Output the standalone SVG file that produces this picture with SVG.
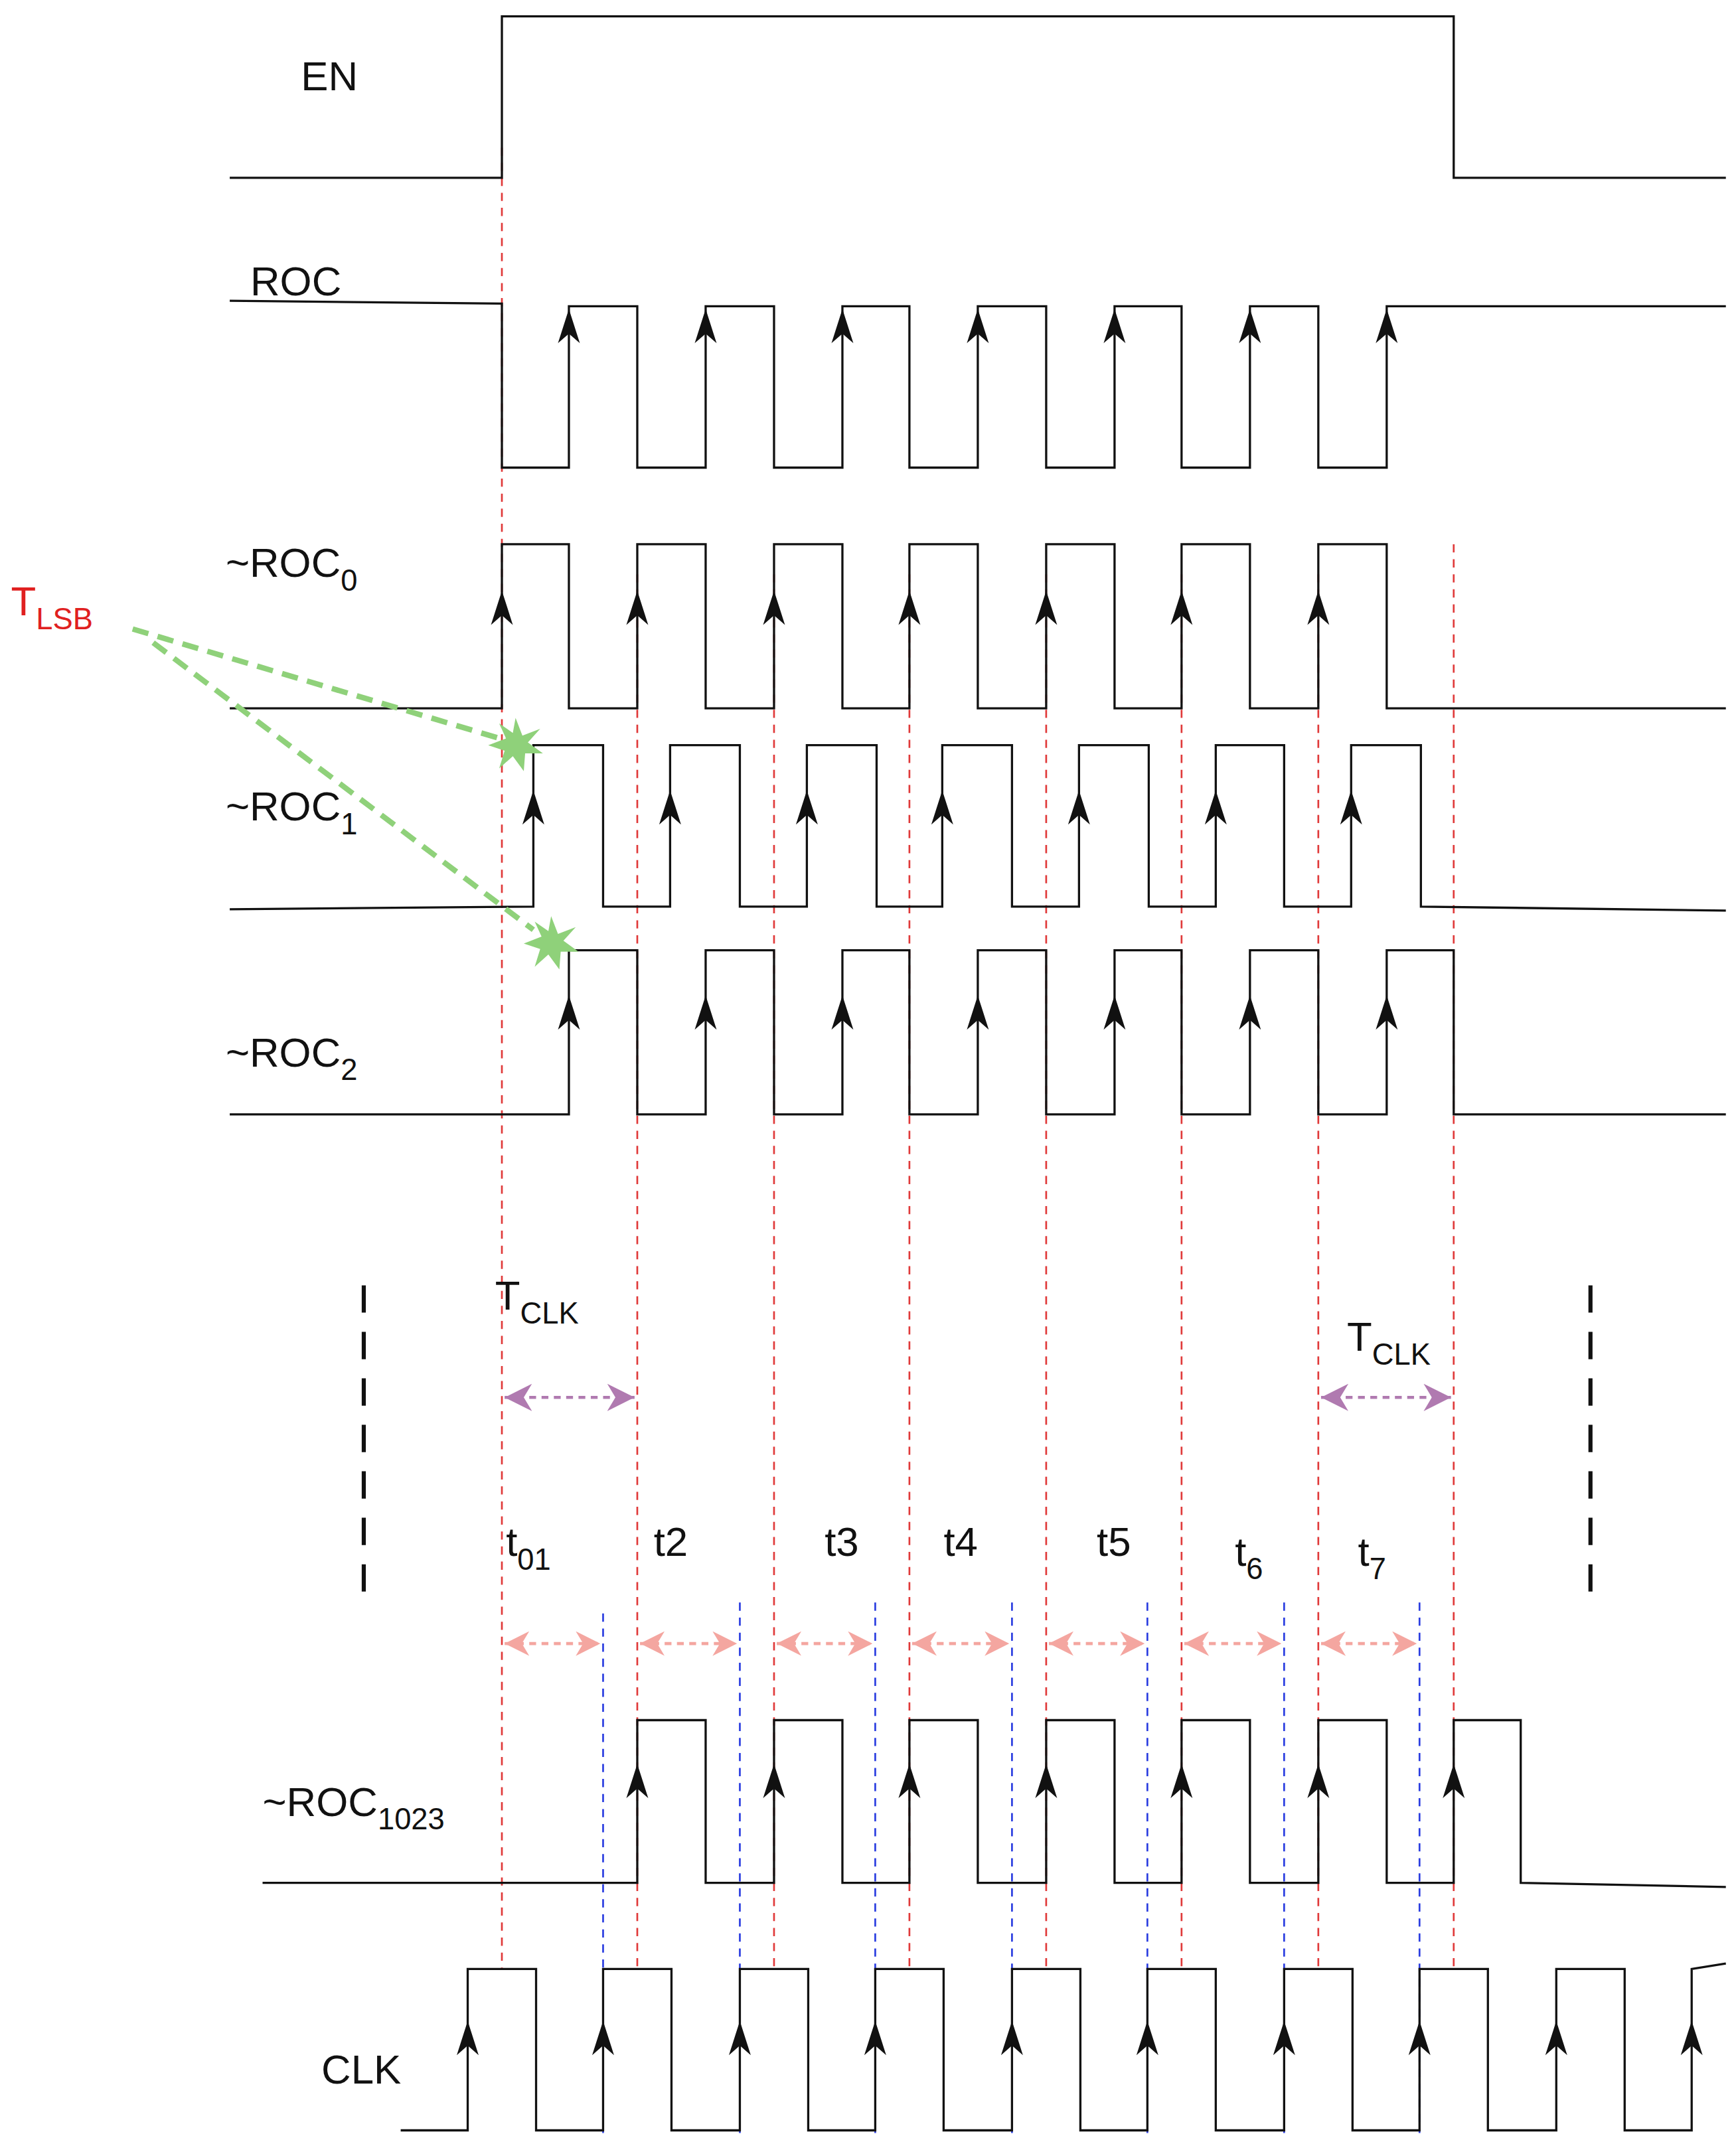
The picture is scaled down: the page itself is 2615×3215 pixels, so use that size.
<svg xmlns="http://www.w3.org/2000/svg" width="2615" height="3215" viewBox="0 0 2615 3215">
<defs>
<style>
.w{fill:none;stroke:#111;stroke-width:1.6;stroke-linejoin:miter}
.r{stroke:#e03a3a;stroke-width:1.3;stroke-dasharray:6 5;fill:none}
.b{stroke:#2a3de0;stroke-width:1.3;stroke-dasharray:6 5;fill:none}
.k{stroke:#111;stroke-width:3;stroke-dasharray:20 14;fill:none}
.g{stroke:#8fd17a;stroke-width:4;stroke-dasharray:12 7;fill:none}
.pk{stroke:#f4a6a0;stroke-width:2.2;stroke-dasharray:5 4;fill:none;marker-start:url(#mp);marker-end:url(#mp)}
.pu{stroke:#b07ab0;stroke-width:2.2;stroke-dasharray:5 4;fill:none;marker-start:url(#mu);marker-end:url(#mu)}
.t{font-family:"Liberation Sans",Arial,sans-serif;font-size:30px;fill:#111}
.s{font-size:22px}
</style>
<marker id="mp" viewBox="0 0 10 10" refX="10" refY="5" markerWidth="18" markerHeight="18" markerUnits="userSpaceOnUse" orient="auto-start-reverse"><path d="M0,0 L10,5 L0,10 L3,5 Z" fill="#f4a6a0"/></marker>
<marker id="mu" viewBox="0 0 10 10" refX="10" refY="5" markerWidth="20" markerHeight="20" markerUnits="userSpaceOnUse" orient="auto-start-reverse"><path d="M0,0 L10,5 L0,10 L3,5 Z" fill="#b07ab0"/></marker>
<path id="ah" d="M0,0 L8,25 L0,18 L-8,25 Z" fill="#111"/>
<polygon id="st" points="0,-20 5,-7 18,-12 9,-2 20,6 7,6 6,19 -2,8 -12,17 -8,4 -20,0 -7,-5 -12,-16 -2,-9" fill="#8fd17a"/>
</defs>
<rect width="2615" height="3215" fill="#fff"/>
<g transform="scale(2.06)">
<g id="guides">
<path class="r" d="M367,108V1440 M466,420V1440 M566,420V1440 M665,420V1440 M765,420V1440 M864,420V1440 M964,420V1440 M1063,398V1440"/>
<path class="b" d="M441,1180V1560 M541,1172V1560 M640,1172V1560 M740,1172V1560 M839,1172V1560 M939,1172V1560 M1038,1172V1560"/>
<path class="k" d="M266,940V1172 M1163,940V1172"/>
</g>
<g id="EN"><text class="t" x="220" y="66">EN</text><path class="w" d="M168,130H367V12H1063V130H1262"/></g>
<g id="ROC"><text class="t" x="183" y="216">ROC</text>
<path class="w" d="M168,220L367,222V342H416V224H466V342H516V224H566V342H616V224H665V342H715V224H765V342H815V224H864V342H914V224H964V342H1014V224H1262"/>
<use href="#ah" x="416" y="226"/><use href="#ah" x="516" y="226"/><use href="#ah" x="616" y="226"/><use href="#ah" x="715" y="226"/><use href="#ah" x="815" y="226"/><use href="#ah" x="914" y="226"/><use href="#ah" x="1014" y="226"/></g>
<g id="ROC0"><text class="t" x="165" y="422">~ROC<tspan class="s" dy="10">0</tspan></text>
<path class="w" d="M168,518H367V398H416V518H466V398H516V518H566V398H616V518H665V398H715V518H765V398H815V518H864V398H914V518H964V398H1014V518H1262"/>
<use href="#ah" x="367" y="432"/><use href="#ah" x="466" y="432"/><use href="#ah" x="566" y="432"/><use href="#ah" x="665" y="432"/><use href="#ah" x="765" y="432"/><use href="#ah" x="864" y="432"/><use href="#ah" x="964" y="432"/></g>
<g id="ROC1"><text class="t" x="165" y="600">~ROC<tspan class="s" dy="10">1</tspan></text>
<path class="w" d="M168,665L390,663V545H441V663H490V545H541V663H590V545H641V663H689V545H740V663H789V545H840V663H889V545H939V663H988V545H1039V663L1262,666"/>
<use href="#ah" x="390" y="578"/><use href="#ah" x="490" y="578"/><use href="#ah" x="590" y="578"/><use href="#ah" x="689" y="578"/><use href="#ah" x="789" y="578"/><use href="#ah" x="889" y="578"/><use href="#ah" x="988" y="578"/></g>
<g id="ROC2"><text class="t" x="165" y="780">~ROC<tspan class="s" dy="10">2</tspan></text>
<path class="w" d="M168,815H416V695H466V815H516V695H566V815H616V695H665V815H715V695H765V815H815V695H864V815H914V695H964V815H1014V695H1063V815H1262"/>
<use href="#ah" x="416" y="728"/><use href="#ah" x="516" y="728"/><use href="#ah" x="616" y="728"/><use href="#ah" x="715" y="728"/><use href="#ah" x="815" y="728"/><use href="#ah" x="914" y="728"/><use href="#ah" x="1014" y="728"/></g>
<g id="TLSB"><text class="t" x="8" y="450" style="fill:#e02020">T<tspan class="s" dy="10" style="fill:#e02020">LSB</tspan></text>
<path class="g" d="M97,460L372,542 M112,470L390,680"/>
<use href="#st" x="377" y="545"/><use href="#st" x="403" y="690"/></g>
<g id="timing">
<text class="t" x="362" y="958">T<tspan class="s" dy="10">CLK</tspan></text>
<text class="t" x="985" y="988">T<tspan class="s" dy="10">CLK</tspan></text>
<line class="pu" x1="369" y1="1022" x2="464" y2="1022"/>
<line class="pu" x1="966" y1="1022" x2="1061" y2="1022"/>
<text class="t" x="370" y="1138">t<tspan class="s" dy="10">01</tspan></text>
<text class="t" x="478" y="1138">t2</text>
<text class="t" x="603" y="1138">t3</text>
<text class="t" x="690" y="1138">t4</text>
<text class="t" x="802" y="1138">t5</text>
<text class="t" x="903" y="1145">t<tspan class="s" dy="10">6</tspan></text>
<text class="t" x="993" y="1145">t<tspan class="s" dy="10">7</tspan></text>
<line class="pk" x1="369" y1="1202" x2="439" y2="1202"/>
<line class="pk" x1="468" y1="1202" x2="539" y2="1202"/>
<line class="pk" x1="568" y1="1202" x2="638" y2="1202"/>
<line class="pk" x1="667" y1="1202" x2="738" y2="1202"/>
<line class="pk" x1="767" y1="1202" x2="837" y2="1202"/>
<line class="pk" x1="866" y1="1202" x2="937" y2="1202"/>
<line class="pk" x1="966" y1="1202" x2="1036" y2="1202"/>
</g>
<g id="ROC1023"><text class="t" x="192" y="1328">~ROC<tspan class="s" dy="10">1023</tspan></text>
<path class="w" d="M192,1377H466V1258H516V1377H566V1258H616V1377H665V1258H715V1377H765V1258H815V1377H864V1258H914V1377H964V1258H1014V1377H1063V1258H1112V1377L1262,1380"/>
<use href="#ah" x="466" y="1290"/><use href="#ah" x="566" y="1290"/><use href="#ah" x="665" y="1290"/><use href="#ah" x="765" y="1290"/><use href="#ah" x="864" y="1290"/><use href="#ah" x="964" y="1290"/><use href="#ah" x="1063" y="1290"/></g>
<g id="CLK"><text class="t" x="235" y="1524">CLK</text>
<path class="w" d="M293,1558H342V1440H392V1558H441V1440H491V1558H541V1440H591V1558H640V1440H690V1558H740V1440H790V1558H839V1440H889V1558H939V1440H989V1558H1038V1440H1088V1558H1138V1440H1188V1558H1237V1440L1262,1436"/>
<use href="#ah" x="342" y="1478"/><use href="#ah" x="441" y="1478"/><use href="#ah" x="541" y="1478"/><use href="#ah" x="640" y="1478"/><use href="#ah" x="740" y="1478"/><use href="#ah" x="839" y="1478"/><use href="#ah" x="939" y="1478"/><use href="#ah" x="1038" y="1478"/><use href="#ah" x="1138" y="1478"/><use href="#ah" x="1237" y="1478"/></g>
</g>
</svg>
